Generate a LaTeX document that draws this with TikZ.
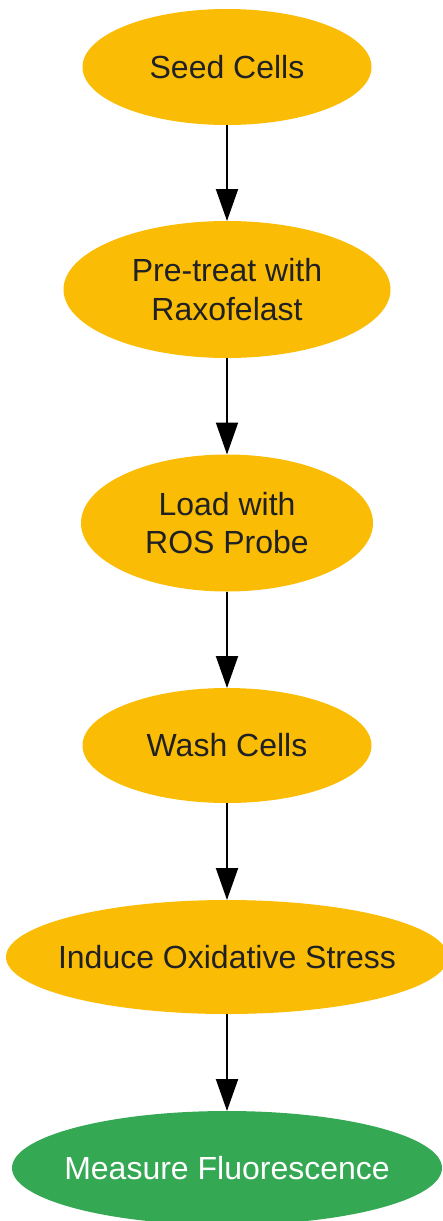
\documentclass[tikz,border=0pt]{standalone}
\usepackage{fontspec}
\setmainfont{Liberation Sans}
\usetikzlibrary{shapes.geometric,arrows.meta}
\definecolor{stepyellow}{HTML}{FBBC05}
\definecolor{stepgreen}{HTML}{34A853}
\definecolor{steptext}{HTML}{202124}
\newcommand{\ctxt}[1]{\makebox[0pt]{#1}}
\tikzset{
  stepnode/.style={ellipse, inner sep=0pt, outer sep=0pt, draw=none, align=center,
    font=\fontsize{32}{38.5}\selectfont},
  yellownode/.style={stepnode, fill=stepyellow, text=steptext},
  greennode/.style={stepnode, fill=stepgreen, text=white},
  flow/.style={line width=2pt, draw=black, -{Triangle[length=32pt,width=22pt]}}
}
\begin{document}
\begin{tikzpicture}[x=1pt,y=-1pt]
\useasboundingbox (0,0) rectangle (443,1221);
\node[yellownode, minimum width=289pt, minimum height=116pt] (seed) at (227,67) {\ctxt{Seed Cells}};
\node[yellownode, minimum width=327pt, minimum height=137pt] (pre) at (227,289.5) {\ctxt{Pre-treat with}\\\ctxt{Raxofelast}};
\node[yellownode, minimum width=292pt, minimum height=137pt] (load) at (227,523) {\ctxt{Load with}\\\ctxt{ROS Probe}};
\node[yellownode, minimum width=289pt, minimum height=115pt] (wash) at (227,745.5) {\ctxt{Wash Cells}};
\node[yellownode, minimum width=442pt, minimum height=114pt] (induce) at (227,957) {\ctxt{Induce Oxidative Stress}};
\node[greennode, minimum width=430pt, minimum height=114pt] (measure) at (227,1168) {\ctxt{Measure Fluorescence}};
\draw[flow] (seed.south) -- (pre.north);
\draw[flow] (pre.south) -- (load.north);
\draw[flow] (load.south) -- (wash.north);
\draw[flow] (wash.south) -- (induce.north);
\draw[flow] (induce.south) -- (measure.north);
\end{tikzpicture}
\end{document}
